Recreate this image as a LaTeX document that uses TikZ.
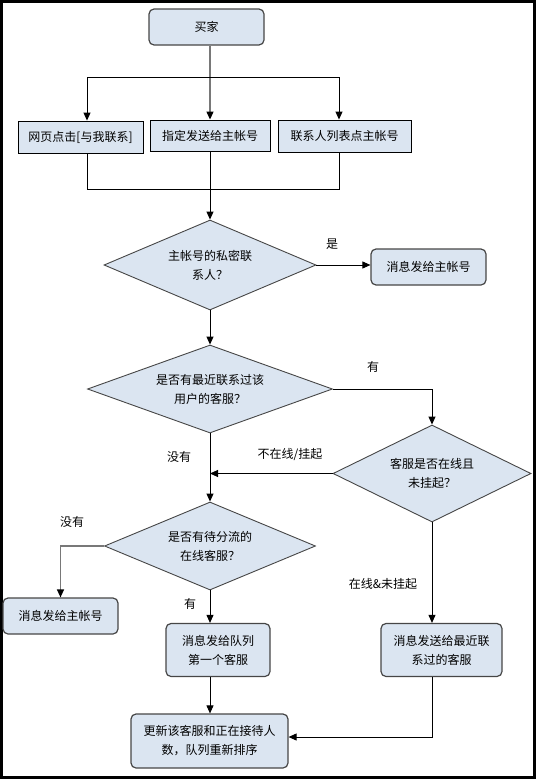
\documentclass[tikz,border=0pt]{standalone}
\usepackage{fontspec}
\setmainfont{Noto Sans CJK SC}
\usetikzlibrary{arrows.meta,shapes.geometric}
\definecolor{boxfill}{RGB}{219,229,241}
\definecolor{edgegray}{RGB}{70,70,70}
\definecolor{linegray}{RGB}{120,120,120}
\begin{document}
\begin{tikzpicture}[x=1pt,y=-1pt,
  font=\fontsize{12}{19}\selectfont,
  sqbox/.style={draw=black, fill=boxfill, line width=0.9pt, inner sep=0pt, align=center},
  rbox/.style={draw=edgegray, fill=boxfill, rounded corners=5pt, line width=1.2pt, inner sep=0pt, align=center},
  dia/.style={diamond, draw=edgegray, fill=boxfill, line width=0.9pt, inner sep=0pt, align=center},
  arr/.style={-{Triangle[length=8pt,width=7pt,color=black]}, line width=0.9pt},
  conn/.style={line width=0.9pt},
  lbl/.style={inner sep=0pt}]
\useasboundingbox (0,0) rectangle (536,779);
\draw[line width=3pt] (1.5,1.5) rectangle (534.5,777.5);

\node[rbox, minimum width=115, minimum height=36] (buyer) at (206.5,27) {买家};
\node[sqbox, minimum width=125, minimum height=32] (b1) at (80.5,137) {网页点击[与我联系]};
\node[sqbox, minimum width=120, minimum height=31] (b2) at (210,135.5) {指定发送给主帐号};
\node[sqbox, minimum width=133, minimum height=32] (b3) at (344.5,136) {联系人列表点主帐号};
\node[dia, aspect=2.35, minimum width=212, minimum height=90] (d1) at (210,265) {主帐号的私密联\\系人？};
\node[rbox, minimum width=115, minimum height=36] (m1) at (428.5,267) {消息发给主帐号};
\node[dia, aspect=2.8, minimum width=245, minimum height=88] (d2) at (210,389) {是否有最近联系过该\\用户的客服？};
\node[dia, aspect=2.05, minimum width=198, minimum height=97] (d3) at (432,473.5) {客服是否在线且\\未挂起？};
\node[dia, aspect=2.4, minimum width=211, minimum height=88] (d4) at (210,546) {是否有待分流的\\在线客服？};
\node[rbox, minimum width=115, minimum height=36] (lb) at (60.5,616) {消息发给主帐号};
\node[rbox, minimum width=104, minimum height=53] (q1) at (218,650) {消息发给队列\\第一个客服};
\node[rbox, minimum width=121, minimum height=53] (r) at (441.5,650) {消息发送给最近联\\系过的客服};
\node[rbox, minimum width=157, minimum height=54] (u) at (209.5,741) {更新该客服和正在接待人\\数，队列重新排序};

% top branching
\draw[arr, draw=linegray, line width=1.3pt] (buyer.south -| b2.north) -- (b2.north);
\coordinate (bL) at (87,77);
\coordinate (bR) at (339,77);
\draw[conn] (bL) -- (bR);
\draw[arr] (bL) -- (bL |- b1.north);
\draw[arr] (bR) -- (bR |- b3.north);
\coordinate (mL) at (87,189);
\coordinate (mR) at (339,189);
\draw[conn] (mL |- b1.south) -- (mL) -- (mR) -- (mR |- b3.south);
\draw[arr] (b2.south) -- (d1.north);

% decision 1
\draw[arr] (d1.east) -- (d1.east -| m1.west);
\node[lbl] (l1) at (332,244) {是};
\draw[arr] (d1.south) -- (d2.north);

% decision 2
\draw[arr] (d2.east) -| (d3.north);
\node[lbl] (l2) at (373,367) {有};
\draw[arr] (d3.west) -- (d3.west -| d2.south);
\node[lbl] (l3) at (290,455) {不在线/挂起};
\node[lbl] (l4) at (179,457) {没有};
\draw[arr] (d2.south) -- (d4.north);

% decision 4
\draw[arr, draw=linegray, line width=1.3pt] (d4.west) -| (lb.north);
\node[lbl] (l5) at (72,522) {没有};
\draw[arr] (d4.south) -- (d4.south |- q1.north);
\node[lbl] (l6) at (190,604) {有};
\draw[arr] (q1.south -| d4.south) -- (u.north -| d4.south);

% decision 3
\draw[arr] (d3.south) -- (d3.south |- r.north);
\node[lbl] (l7) at (383,584) {在线\&未挂起};
\coordinate (rc) at (432,737);
\draw[arr] (r.south -| d3.south) -- (rc) -- (rc -| u.east);
\end{tikzpicture}
\end{document}
